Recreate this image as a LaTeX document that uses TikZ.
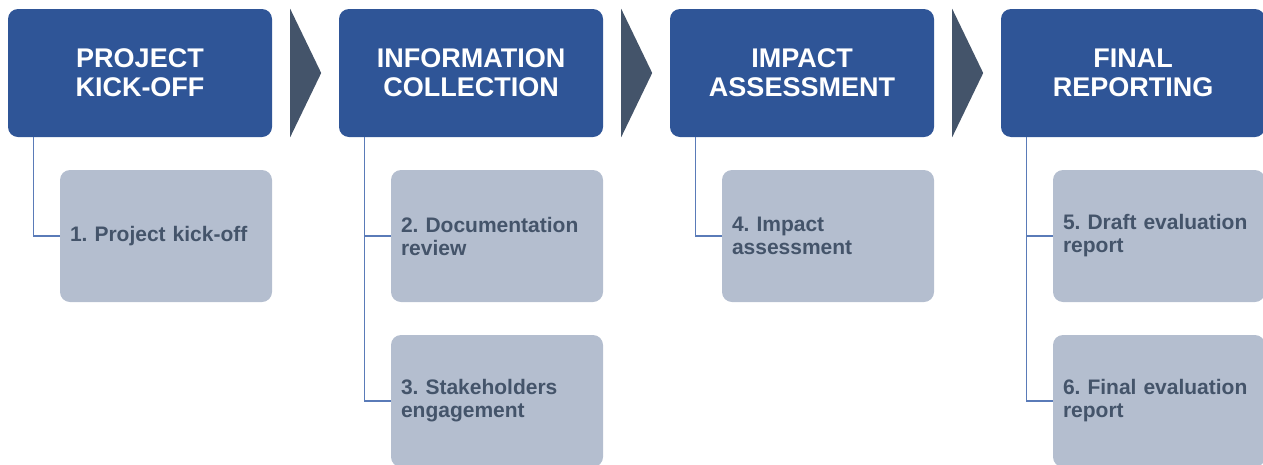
\documentclass[tikz,border=0pt]{standalone}
\usepackage{fontspec}
\setmainfont{Liberation Sans}
\frenchspacing
\definecolor{hdrblue}{HTML}{2F5597}
\definecolor{arrgray}{HTML}{44546A}
\definecolor{subfill}{HTML}{B4BECF}
\definecolor{subtext}{HTML}{44546A}
\definecolor{linkblue}{HTML}{5A7BB8}
\tikzset{
  hdr/.style={rounded corners=10pt, fill=hdrblue, text=white, minimum width=264pt, minimum height=128pt, align=center, inner sep=0pt, font=\fontsize{27}{29}\selectfont\bfseries},
  subbox/.style={rounded corners=10pt, fill=subfill, text=subtext, minimum width=212pt, minimum height=132pt, text width=192pt, inner xsep=10pt, inner ysep=0pt, align=left, font=\fontsize{21}{23}\selectfont\bfseries\frenchspacing},
  chev/.style={fill=arrgray},
  link/.style={draw=linkblue, line width=1.3pt}
}
\begin{document}
\begin{tikzpicture}[x=1pt,y=-1pt]
\useasboundingbox (0,0) rectangle (1263,464);
% headers
\node[hdr] (h1) at (140,73) {PROJECT\\KICK-OFF};
\node[hdr] (h2) at (471,73) {INFORMATION\\COLLECTION};
\node[hdr] (h3) at (802,73) {IMPACT\\ASSESSMENT};
\node[hdr] (h4) at (1133,73) {FINAL\\REPORTING};
% chevrons
\foreach \h in {h1,h2,h3}{
  \fill[chev] ([xshift=18pt]\h.north east) -- ([xshift=49pt]\h.east) -- ([xshift=18pt]\h.south east) -- cycle;
}
% sub boxes
\node[subbox] (s1) at (166,236) {1. Project kick-off};
\node[subbox] (s2) at (497,236) {2. Documentation\\review};
\node[subbox] (s3) at (497,401) {3. Stakeholders\\engagement};
\node[subbox] (s4) at (828,236) {4. Impact\\assessment};
\node[subbox] (s5) at (1159,236) {5. Draft evaluation\\report};
\node[subbox] (s6) at (1159,401) {6. Final evaluation\\report};
% connector coordinates
\coordinate (c1) at ([xshift=26pt]h1.south west);
\coordinate (c2) at ([xshift=26pt]h2.south west);
\coordinate (c3) at ([xshift=26pt]h3.south west);
\coordinate (c4) at ([xshift=26pt]h4.south west);
% connectors
\draw[link] (c1) |- (s1.west);
\draw[link] (c2) |- (s3.west);
\draw[link] (c2 |- s2.west) -- (s2.west);
\draw[link] (c3) |- (s4.west);
\draw[link] (c4) |- (s6.west);
\draw[link] (c4 |- s5.west) -- (s5.west);
\end{tikzpicture}
\end{document}
